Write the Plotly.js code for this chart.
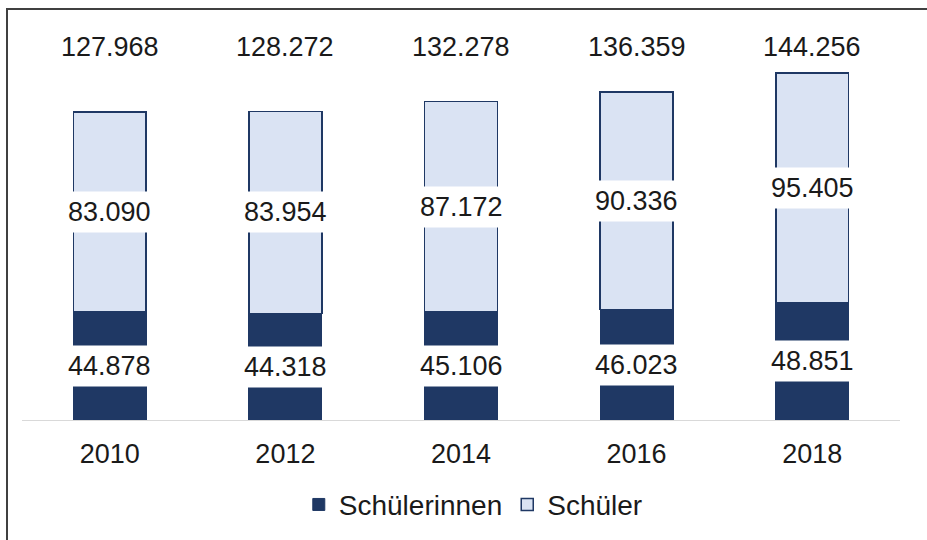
<!DOCTYPE html>
<html>
<head>
<meta charset="utf-8">
<script src="https://cdn.plot.ly/plotly-3.0.1.min.js"></script>
<style>
html,body{margin:0;padding:0;background:#fff;}
#wrap{position:absolute;left:0;top:0;width:927px;height:540px;}
#frame{position:absolute;left:6px;top:8px;width:940px;height:560px;border-top:2px solid #404040;border-left:2px solid #404040;pointer-events:none;}
#chart{position:absolute;left:0;top:0;width:927px;height:540px;}
</style>
</head>
<body>
<div id="wrap">
<div id="chart"></div>
<div id="frame"></div>
</div>
<script>
const years = ['2010', '2012', '2014', '2016', '2018'];
const schuelerinnen = [44878, 44318, 45106, 46023, 48851];
const schueler = [83090, 83954, 87172, 90336, 95405];
const totals = [127968, 128272, 132278, 136359, 144256];
const seriesNames = ['Schülerinnen', 'Schüler'];

const FONT = 'Liberation Sans, Arial, sans-serif';
const DARK = '#1F3864';
const LIGHT = '#DAE3F3';

function fmt(v) {
  const s = String(v);
  return s.replace(/\B(?=(\d{3})+(?!\d))/g, '.');
}

const traces = [
  {
    type: 'bar', name: seriesNames[0], x: years, y: schuelerinnen,
    marker: {color: DARK, line: {color: DARK, width: 1}},
    hoverinfo: 'skip'
  },
  {
    type: 'bar', name: seriesNames[1], x: years, y: schueler,
    marker: {color: LIGHT, line: {color: DARK, width: 1.5}},
    hoverinfo: 'skip'
  }
];

const annotations = [];
years.forEach((yr, i) => {
  annotations.push({
    x: i, y: schuelerinnen[i] / 2, xref: 'x', yref: 'y',
    text: fmt(schuelerinnen[i]), showarrow: false,
    bgcolor: '#ffffff', borderpad: 5,
    font: {family: FONT, size: 27, color: '#1a1a1a'}
  });
  annotations.push({
    x: i, y: schuelerinnen[i] + schueler[i] / 2, xref: 'x', yref: 'y',
    text: fmt(schueler[i]), showarrow: false,
    bgcolor: '#ffffff', borderpad: 5,
    font: {family: FONT, size: 27, color: '#1a1a1a'}
  });
  annotations.push({
    x: i, y: 0.968, xref: 'x', yref: 'paper', yanchor: 'middle',
    text: fmt(totals[i]), showarrow: false,
    font: {family: FONT, size: 27, color: '#1a1a1a'}
  });
});

const layout = {
  width: 927, height: 540,
  margin: {l: 22, r: 27, t: 35, b: 119},
  paper_bgcolor: 'rgba(0,0,0,0)', plot_bgcolor: 'rgba(0,0,0,0)',
  barmode: 'stack', bargap: 0.585,
  font: {family: FONT, size: 27, color: '#1a1a1a'},
  showlegend: true,
  legend: {
    orientation: 'h', x: 0.514, xanchor: 'center', y: -0.217, yanchor: 'middle',
    traceorder: 'normal', font: {family: FONT, size: 28, color: '#1a1a1a'},
    itemwidth: 30
  },
  xaxis: {
    type: 'category', range: [-0.5, 4.5], autorange: false,
    showgrid: false, zeroline: false,
    showline: true, linecolor: '#d9d9d9', linewidth: 1,
    ticks: '', ticklabelstandoff: 10,
    tickfont: {family: FONT, size: 27, color: '#1a1a1a'}
  },
  yaxis: {
    range: [0, 160000], autorange: false, visible: false, showgrid: false, zeroline: false
  },
  annotations: annotations
};

Plotly.newPlot('chart', traces, layout, {displayModeBar: false, staticPlot: true});
</script>
</body>
</html>
